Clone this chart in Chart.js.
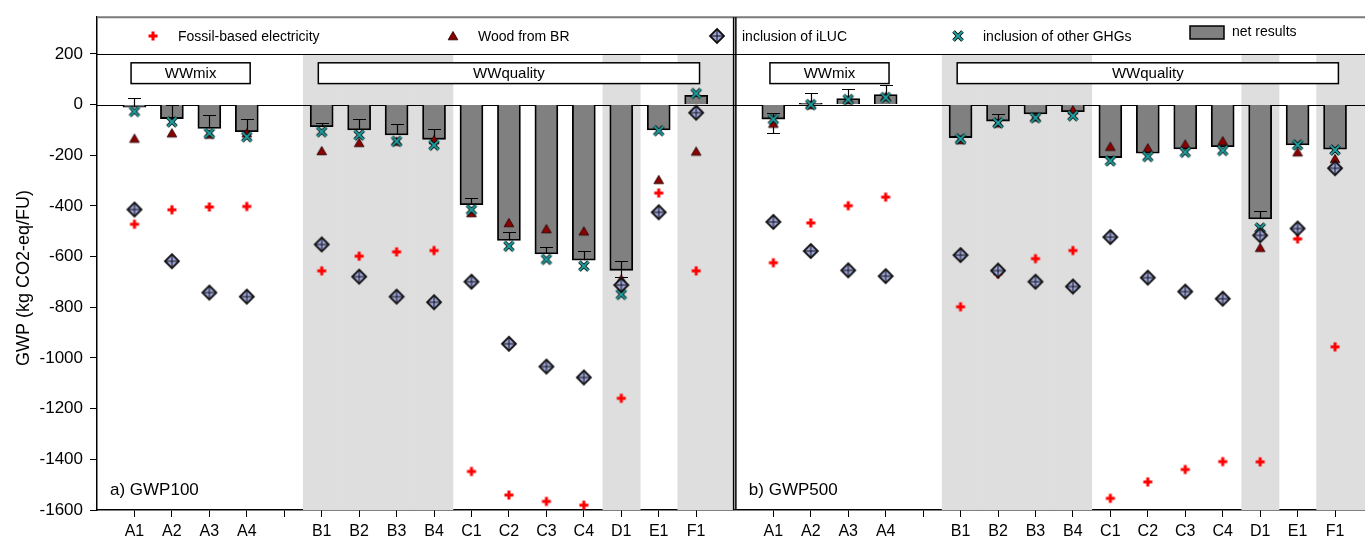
<!DOCTYPE html>
<html>
<head>
<meta charset="utf-8">
<script src="https://cdn.jsdelivr.net/npm/chart.js@4.4.1/dist/chart.umd.min.js"></script>
<style>
  html, body { margin: 0; padding: 0; background: #fff; }
  #wrap { width: 1365px; height: 543px; position: relative; }
</style>
</head>
<body>
<div id="wrap"><canvas id="c" width="1365" height="543"></canvas></div>
<script>
// categories ('' = empty slot between group A and B)
const categories = ['A1', 'A2', 'A3', 'A4', '', 'B1', 'B2', 'B3', 'B4', 'C1', 'C2', 'C3', 'C4', 'D1', 'E1', 'F1'];
const yTicks = [200, 0, -200, -400, -600, -800, -1000, -1200, -1400, -1600];

// a) GWP100
const gwp100Net    = [-10, -55, -94, -107, null, -87, -100, -120, -137, -395, -536, -589, -614, -654, -100, 37];
const gwp100ErrHi  = [27, 0, -41, -55, null, -72, -58, -78, -95, -369, -502, -563, -576, -618, null, null];
const gwp100ErrLo  = [null, null, null, null, null, null, null, null, null, null, null, null, null, -680, null, null];
const gwp100Fossil = [-472, -415, -404, -402, null, -656, -598, -581, -576, -1448, -1541, -1566, -1581, -1159, -349, -656];
const gwp100Wood   = [-134, -113, -118, -113, null, -183, -151, -146, -140, -428, -467, -491, -500, -690, -297, -185];
const gwp100ILUC   = [-414, -618, -742, -758, null, -552, -679, -758, -780, -699, -944, -1034, -1077, -712, -425, -32];
const gwp100Other  = [-27, -68, -113, -127, null, -107, -120, -145, -160, -415, -559, -611, -637, -749, -103, 44];

// b) GWP500
const gwp500Net    = [-57, 5, 24, 40, null, -130, -65, -37, -28, -209, -192, -175, -166, -451, -159, -176];
const gwp500ErrHi  = [-35, 44, 61, 77, null, -122, -39, null, null, null, null, null, null, -418, null, null];
const gwp500ErrLo  = [-113, null, null, null, null, null, null, null, null, null, null, null, null, null, null, null];
const gwp500Fossil = [-624, -467, -399, -365, null, -798, -668, -608, -576, -1554, -1489, -1440, -1409, -1410, -530, -956];
const gwp500Wood   = [-75, -2, 18, 31, null, -140, -74, -50, -22, -166, -172, -157, -144, -565, -188, -214];
const gwp500ILUC   = [-463, -578, -654, -677, null, -594, -655, -699, -718, -523, -683, -738, -766, -516, -489, -251];
const gwp500Other  = [-58, 0, 20, 28, null, -135, -72, -52, -44, -222, -205, -188, -181, -487, -159, -179];

const panelNames = ['a) GWP100', 'b) GWP500'];
const groupLabels = ['WWmix', 'WWquality'];
const groupFirst = ['A1', 'B1'];
const groupLast = ['A4', 'F1'];
const shadedCats = ['B1', 'B2', 'B3', 'B4', 'D1', 'F1'];
const legendLabels = ['Fossil-based electricity', 'Wood from BR', 'inclusion of iLUC', 'inclusion of other GHGs', 'net results'];

const FONT = '"Liberation Sans", Arial, sans-serif';
const PANEL_W = 17;           // x units per panel
const panelOffset = [0, 17.06];
const X_MAX = 33.86;

function pos(panel, i) { return panelOffset[panel] + i + 1; }
function pts(panel, arr) {
  return arr.map((v, i) => v == null ? null : { x: pos(panel, i), y: v }).filter(Boolean);
}
function both(a, b) { return pts(0, a).concat(pts(1, b)); }

// marker images
function marker(size, fn) {
  const c = document.createElement('canvas');
  c.width = size; c.height = size;
  fn(c.getContext('2d'), size / 2);
  return c;
}
const plusImg = marker(12, (g, m) => {
  g.strokeStyle = '#ff0000'; g.lineWidth = 3;
  g.beginPath(); g.moveTo(m - 4.5, m); g.lineTo(m + 4.5, m); g.moveTo(m, m - 4.5); g.lineTo(m, m + 4.5); g.stroke();
});
const triImg = marker(12, (g, m) => {
  g.fillStyle = '#8b0000'; g.strokeStyle = '#2a0000'; g.lineWidth = 0.9;
  g.beginPath(); g.moveTo(m, m - 4.5); g.lineTo(m + 4.8, m + 3.8); g.lineTo(m - 4.8, m + 3.8); g.closePath(); g.fill(); g.stroke();
});
const diaImg = marker(18, (g, m) => {
  const r = 7;
  g.fillStyle = '#a0a6dc'; g.strokeStyle = '#111'; g.lineWidth = 1.8;
  g.beginPath(); g.moveTo(m, m - r); g.lineTo(m + r, m); g.lineTo(m, m + r); g.lineTo(m - r, m); g.closePath(); g.fill(); g.stroke();
  g.lineWidth = 1;
  g.beginPath(); g.moveTo(m, m - r); g.lineTo(m, m + r); g.moveTo(m - r, m); g.lineTo(m + r, m); g.stroke();
});
const xImg = marker(14, (g, m) => {
  const r = 4.5;
  g.lineCap = 'butt';
  g.strokeStyle = '#000'; g.lineWidth = 3.6;
  g.beginPath(); g.moveTo(m - r, m - r); g.lineTo(m + r, m + r); g.moveTo(m + r, m - r); g.lineTo(m - r, m + r); g.stroke();
  g.strokeStyle = '#1fa3a3'; g.lineWidth = 1.8;
  g.beginPath(); g.moveTo(m - r, m - r); g.lineTo(m + r, m + r); g.moveTo(m + r, m - r); g.lineTo(m - r, m + r); g.stroke();
});

function scatterSet(label, data, img, order) {
  return { type: 'scatter', label, data, pointStyle: img, pointRadius: 6, order };
}

const framePlugin = {
  id: 'frame',
  beforeDatasetsDraw(chart) {
    const { ctx, chartArea: a, scales: { x, y } } = chart;
    ctx.save();
    // shaded category bands
    ctx.fillStyle = '#dedede';
    for (let p = 0; p < 2; p++) {
      shadedCats.forEach(cat => {
        const i = categories.indexOf(cat);
        const lo = pos(p, i) - 0.5;
        const hi = i === categories.length - 1 ? panelOffset[p] + PANEL_W : pos(p, i) + 0.5;
        const x0 = x.getPixelForValue(lo), x1 = Math.min(x.getPixelForValue(hi), a.right);
        ctx.fillRect(x0, y.getPixelForValue(yTicks[0]), x1 - x0 + 0.5, a.bottom - y.getPixelForValue(yTicks[0]));
      });
    }
    // horizontal lines at 200 and 0
    ctx.strokeStyle = '#000'; ctx.lineWidth = 1;
    [yTicks[0], 0].forEach(v => {
      const py = Math.round(y.getPixelForValue(v)) + 0.5;
      ctx.beginPath(); ctx.moveTo(a.left, py); ctx.lineTo(a.right, py); ctx.stroke();
    });
    // top line
    ctx.strokeStyle = '#7a7a7a'; ctx.lineWidth = 2;
    ctx.beginPath(); ctx.moveTo(a.left, a.top); ctx.lineTo(a.right, a.top); ctx.stroke();
    // panel separators
    ctx.strokeStyle = '#000'; ctx.lineWidth = 1.5;
    [PANEL_W, panelOffset[1]].forEach(v => {
      const px = x.getPixelForValue(v);
      ctx.beginPath(); ctx.moveTo(px, a.top); ctx.lineTo(px, a.bottom); ctx.stroke();
    });
    // group boxes
    ctx.font = '15px ' + FONT; ctx.textAlign = 'center'; ctx.textBaseline = 'middle';
    for (let p = 0; p < 2; p++) {
      groupLabels.forEach((lab, g) => {
        const x0 = x.getPixelForValue(pos(p, categories.indexOf(groupFirst[g])) - 0.09);
        const x1 = x.getPixelForValue(pos(p, categories.indexOf(groupLast[g])) + 0.09);
        const y0 = y.getPixelForValue(165), y1 = y.getPixelForValue(83);
        ctx.fillStyle = '#fff'; ctx.fillRect(x0, y0, x1 - x0, y1 - y0);
        ctx.strokeStyle = '#000'; ctx.lineWidth = 1.5; ctx.strokeRect(x0, y0, x1 - x0, y1 - y0);
        ctx.fillStyle = '#000'; ctx.fillText(lab, (x0 + x1) / 2, (y0 + y1) / 2 + 1);
      });
    }
    ctx.restore();
  },
  afterDatasetDraw(chart, args) {
    if (args.index !== 0) return;
    const { ctx, scales: { x, y } } = chart;
    const net = [gwp100Net, gwp500Net], hi = [gwp100ErrHi, gwp500ErrHi], lo = [gwp100ErrLo, gwp500ErrLo];
    ctx.save();
    ctx.strokeStyle = '#000'; ctx.lineWidth = 1.2;
    for (let p = 0; p < 2; p++) {
      net[p].forEach((v, i) => {
        if (v == null) return;
        const px = Math.round(x.getPixelForValue(pos(p, i))) + 0.5;
        [hi[p][i], lo[p][i]].forEach(e => {
          if (e == null) return;
          const py0 = y.getPixelForValue(v), py1 = Math.round(y.getPixelForValue(e)) + 0.5;
          ctx.beginPath(); ctx.moveTo(px, py0); ctx.lineTo(px, py1);
          ctx.moveTo(px - 6.5, py1); ctx.lineTo(px + 6.5, py1); ctx.stroke();
        });
      });
    }
    ctx.restore();
  },
  afterDraw(chart) {
    const { ctx } = chart;
    ctx.save();
    // legend
    const imgs = [plusImg, triImg, diaImg, xImg];
    const mx = [153, 453, 717, 958];
    ctx.font = '14px ' + FONT; ctx.fillStyle = '#000'; ctx.textBaseline = 'middle'; ctx.textAlign = 'left';
    imgs.forEach((img, k) => {
      ctx.drawImage(img, mx[k] - img.width / 2, 36 - img.height / 2);
      ctx.fillText(legendLabels[k], mx[k] + 25, 37);
    });
    ctx.fillStyle = '#808080'; ctx.fillRect(1190, 26, 34, 13);
    ctx.strokeStyle = '#000'; ctx.lineWidth = 1.5; ctx.strokeRect(1190, 26, 34, 13);
    ctx.fillStyle = '#000'; ctx.fillText(legendLabels[4], 1232, 32);
    // panel names
    ctx.font = '17px ' + FONT;
    const { x } = chart.scales;
    panelNames.forEach((n, p) => ctx.fillText(n, x.getPixelForValue(panelOffset[p]) + 13, 490));
    // y title
    ctx.font = '18px ' + FONT; ctx.textAlign = 'center';
    ctx.translate(24, 278); ctx.rotate(-Math.PI / 2);
    ctx.fillText('GWP (kg CO2-eq/FU)', 0, 0);
    ctx.restore();
  }
};

new Chart(document.getElementById('c'), {
  type: 'bar',
  data: {
    datasets: [
      { type: 'bar', label: legendLabels[4], data: both(gwp100Net, gwp500Net), backgroundColor: '#808080',
        borderColor: '#000', borderWidth: 1.8, barThickness: 23, grouped: false, order: 10 },
      scatterSet(legendLabels[0], both(gwp100Fossil, gwp500Fossil), plusImg, 4),
      scatterSet(legendLabels[1], both(gwp100Wood, gwp500Wood), triImg, 3),
      scatterSet(legendLabels[3], both(gwp100Other, gwp500Other), xImg, 2),
      scatterSet(legendLabels[2], both(gwp100ILUC, gwp500ILUC), diaImg, 1)
    ]
  },
  options: {
    responsive: false,
    animation: false,
    devicePixelRatio: 1,
    layout: { autoPadding: false, padding: { top: 15, left: 0, right: 0, bottom: 0 } },
    plugins: { legend: { display: false }, tooltip: { enabled: false } },
    scales: {
      x: {
        type: 'linear', min: 0, max: X_MAX, offset: false,
        afterBuildTicks(scale) {
          const t = [];
          for (let p = 0; p < 2; p++) categories.forEach((c, i) => t.push({ value: pos(p, i) }));
          scale.ticks = t;
        },
        afterFit(scale) {
          scale.height = 33;
          scale.paddingLeft = 0;
          scale.paddingRight = 0;
        },
        ticks: {
          autoSkip: false, maxRotation: 0, color: '#000', padding: 5,
          font: { family: FONT, size: 16 },
          callback: (v, i) => categories[i % categories.length]
        },
        grid: { offset: false, drawOnChartArea: false, drawTicks: true, tickLength: 7, color: '#000', tickWidth: 1 },
        border: { color: '#000', width: 1.5 }
      },
      y: {
        min: -1600, max: 345,
        afterBuildTicks(scale) { scale.ticks = yTicks.map(v => ({ value: v })); },
        afterFit(scale) { scale.width = 97; },
        ticks: { color: '#000', padding: 7, font: { family: FONT, size: 17 }, callback: v => String(v) },
        grid: { drawOnChartArea: false, drawTicks: true, tickLength: 7, color: '#000', tickWidth: 1 },
        border: { color: '#000', width: 1.5 }
      }
    }
  },
  plugins: [framePlugin]
});
</script>
</body>
</html>
